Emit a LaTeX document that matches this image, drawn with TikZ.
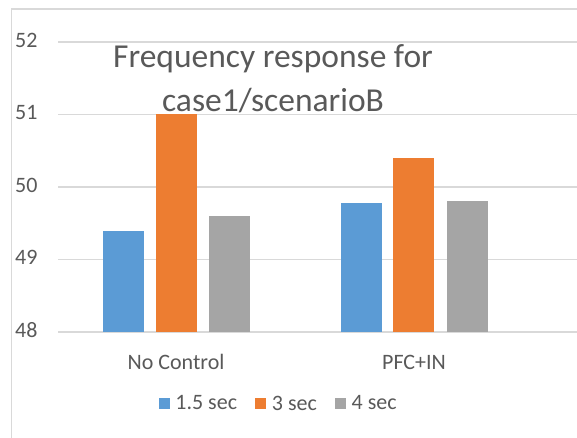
\documentclass[tikz,border=0pt]{standalone}
\usepackage{fontspec}
\setmainfont{Carlito}
\usetikzlibrary{positioning}
\definecolor{gridgray}{HTML}{D9D9D9}
\definecolor{textgray}{HTML}{595959}
\definecolor{barblue}{HTML}{5B9BD5}
\definecolor{barorange}{HTML}{ED7D31}
\definecolor{bargray}{HTML}{A5A5A5}
\tikzset{
  lbl/.style={text=textgray, font=\fontsize{22}{26}\selectfont, inner sep=0pt},
  key/.style={minimum size=11pt, inner sep=0pt},
  grid line/.style={gridgray, line width=1.5pt},
}

\begin{document}
\begin{tikzpicture}[x=1pt, y=-1pt]
\useasboundingbox (0,0) rectangle (577,438);
% frame
\draw[grid line] (11.5,438) -- (11.5,9) -- (577,9);
% value axis
\foreach \v/\yy in {48/332, 49/259.5, 50/187, 51/114.5, 52/42} {
  \draw[grid line] (58,\yy) -- (577,\yy);
  \node[lbl, anchor=west] (tick\v) at (15,\yy-2) {\v};
}
% bars
\foreach \x/\v/\c in {123.5/49.4/barblue, 176/51/barorange, 229/49.6/bargray,
                      361.5/49.78/barblue, 413.5/50.4/barorange, 467/49.8/bargray}
  \fill[\c] (\x-20.5,332) rectangle (\x+20.5,{332-72.5*(\v-48)});
% title
\node[text=textgray, font=\fontsize{33.5}{44}\selectfont, align=center, inner sep=0pt]
  (title) at (273,79) {Frequency response for\\case1/scenarioB};
% categories
\node[lbl] (nocontrol) at (176,362) {No Control};
\node[lbl] (pfcin) at (414,362) {PFC+IN};
% legend
\node[key, fill=barblue] (k1) at (164.5,403) {};
\node[lbl, right=5pt of k1] (t1) {1.5 sec};
\node[key, fill=barorange, right=18pt of t1] (k2) {};
\node[lbl, right=5pt of k2] (t2) {3 sec};
\node[key, fill=bargray, right=18pt of t2] (k3) {};
\node[lbl, right=5pt of k3] (t3) {4 sec};
\end{tikzpicture}
\end{document}
